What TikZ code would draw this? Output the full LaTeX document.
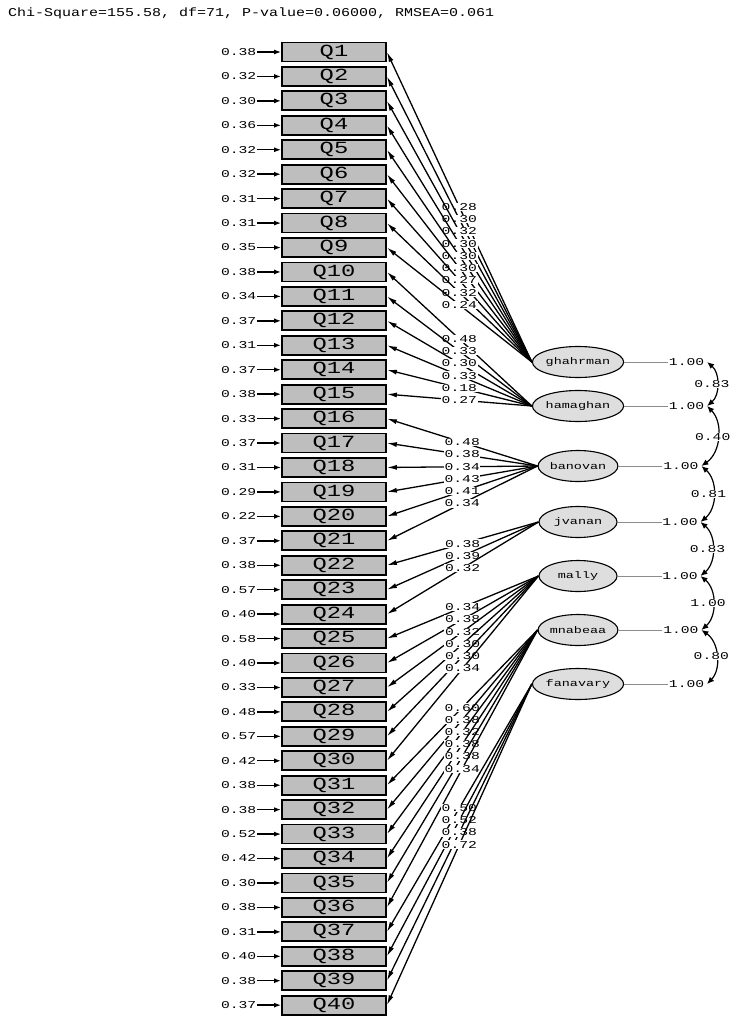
\documentclass[tikz,border=0pt]{standalone}
\usepackage{fontspec}
\usepackage{tikz}
\usetikzlibrary{positioning, arrows.meta, shapes.geometric}
\newfontfamily\widefont[FakeStretch=1.4]{Liberation Mono}
\newfontfamily\titlefam[FakeStretch=1.25]{Liberation Mono}
\definecolor{boxgray}{RGB}{190,190,190}
\definecolor{latgray}{RGB}{222,222,222}
\definecolor{linegray}{RGB}{140,140,140}
\tikzset{
  indicator/.style={
    rectangle, draw, line width=1.8pt, fill=boxgray,
    minimum width=104pt, minimum height=19pt, inner sep=0pt,
    font=\widefont\fontsize{17}{17}\selectfont
  },
  latent/.style={
    ellipse, draw, line width=1.1pt, fill=latgray,
    minimum width=78pt, minimum height=31pt, inner sep=0pt,
    font=\widefont\fontsize{9.6}{10}\selectfont
  },
  value/.style={inner sep=0.6pt, font=\widefont\fontsize{10.5}{10.5}\selectfont},
  errarrow/.style={-{Latex[length=7pt,width=5pt]}, line width=1.4pt},
  loading/.style={-{Latex[length=10pt,width=5pt]}, line width=1.3pt},
  varline/.style={draw=linegray, line width=0.9pt},
  covarrow/.style={{Latex[length=7pt,width=6pt]}-{Latex[length=7pt,width=6pt]}, line width=1.2pt},
}

\begin{document}
\begin{tikzpicture}[x=1pt, y=-1pt]
  \useasboundingbox (0,0) rectangle (734,1016);
  \node[anchor=west, inner sep=0pt, font=\titlefam\fontsize{12}{12}\selectfont] (title) at (8,13)
    {Chi-Square=155.58, df=71, P-value=0.06000, RMSEA=0.061};

  % observed variables with error variances
  \foreach \i/\e in {1/0.38, 2/0.32, 3/0.30, 4/0.36, 5/0.32, 6/0.32, 7/0.31, 8/0.31,
      9/0.35, 10/0.38, 11/0.34, 12/0.37, 13/0.31, 14/0.37, 15/0.38, 16/0.33, 17/0.37,
      18/0.31, 19/0.29, 20/0.22, 21/0.37, 22/0.38, 23/0.57, 24/0.40, 25/0.58, 26/0.40,
      27/0.33, 28/0.48, 29/0.57, 30/0.42, 31/0.38, 32/0.38, 33/0.52, 34/0.42, 35/0.30,
      36/0.38, 37/0.31, 38/0.40, 39/0.38, 40/0.37} {
    \node[indicator] (Q\i) at (334, {52+(\i-1)*24.44}) {Q\i};
    \node[value, left=24pt of Q\i] (e\i) {\e};
    \draw[errarrow] (e\i.east) -- (Q\i.west);
  }

  % latent variables
  \foreach \f/\y/\name in {1/362/ghahrman, 2/406/hamaghan, 3/466/banovan, 4/522/jvanan,
      5/576/mally, 6/630/mnabeaa, 7/684/fanavary} {
    \node[latent] (F\f) at (578,\y) {\name};
    \node[value, right=44pt of F\f] (v\f) {1.00};
    \draw[varline] (F\f.east) -- (v\f.west);
  }

  % loadings
  \foreach \i/\f/\l in {1/1/0.28, 2/1/0.30, 3/1/0.32, 4/1/0.30, 5/1/0.30, 6/1/0.30,
      7/1/0.27, 8/1/0.32, 9/1/0.24, 10/2/0.48, 11/2/0.33, 12/2/0.30, 13/2/0.33,
      14/2/0.18, 15/2/0.27, 16/3/0.48, 17/3/0.38, 18/3/0.34, 19/3/0.43, 20/3/0.41,
      21/3/0.34, 22/4/0.38, 23/4/0.39, 24/4/0.32, 25/5/0.34, 26/5/0.38, 27/5/0.32,
      28/5/0.30, 29/5/0.30, 30/5/0.34, 31/6/0.60, 32/6/0.38, 33/6/0.32, 34/6/0.38,
      35/6/0.38, 36/6/0.34, 37/7/0.50, 38/7/0.52, 39/7/0.38, 40/7/0.72} {
    \draw[loading] (F\f.west) -- (Q\i.east) node[value, midway, fill=white] {\l};
  }

  % correlations between neighbouring factors
  \foreach \a/\b/\r in {1/2/0.83, 2/3/0.40, 3/4/0.81, 4/5/0.83, 5/6/1.00, 6/7/0.80} {
    \draw[covarrow] ([xshift=2pt]v\a.east) to[bend left=50]
      node[value, fill=white, xshift=-5pt] {\r} ([xshift=2pt]v\b.east);
  }
\end{tikzpicture}
\end{document}
